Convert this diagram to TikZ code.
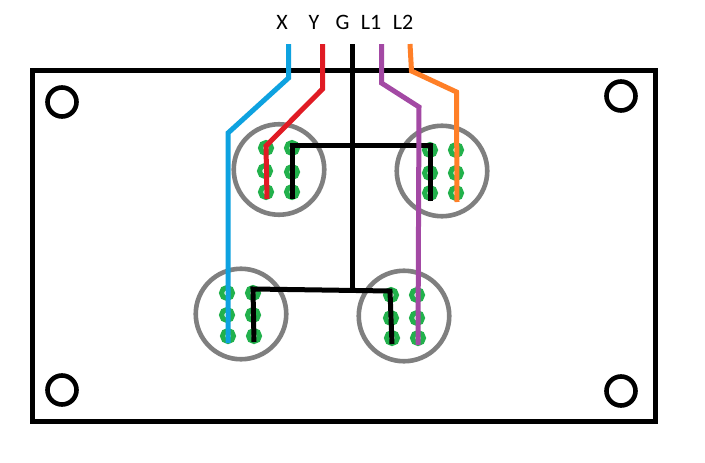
\documentclass[tikz,border=0pt]{standalone}
\usepackage{fontspec}
\setmainfont{Carlito}
\definecolor{wireblue}{HTML}{0EA2E0}
\definecolor{wirered}{HTML}{E01B24}
\definecolor{wirepurple}{HTML}{A349A4}
\definecolor{wireorange}{HTML}{FF7F27}
\definecolor{pingreen}{HTML}{22B14C}
\definecolor{ringgray}{HTML}{7F7F7F}
\tikzset{
  board/.style={draw=black,line width=5pt,minimum width=623pt,minimum height=351pt,inner sep=0pt},
  hole/.style={circle,draw=black,line width=4.6pt,fill=white,minimum size=29pt,inner sep=0pt},
  socket/.style={circle,draw=ringgray,line width=4.6pt,minimum size=90.5pt,inner sep=0pt},
  pin/.style={circle,draw=pingreen,line width=5pt,fill=white,minimum size=11pt,inner sep=0pt},
  wire/.style={line width=5pt,line join=miter},
  lab/.style={font=\fontsize{22}{24}\selectfont,inner sep=0pt,text=black},
}
\begin{document}
\begin{tikzpicture}[x=1pt,y=-1pt]
\useasboundingbox (0,0) rectangle (705,463);
\fill[white] (0,0) rectangle (705,463);
\node[board] (B) at (343.5,245.5) {};
\foreach \n/\x/\y in {h1/62/102,h2/621/96,h3/62/390,h4/621/391}
  \node[hole] (\n) at (\x,\y) {};
\foreach \n/\x/\y in {s1/279/169.5,s2/442/171,s3/241/314,s4/404/316}
  \node[socket] (\n) at (\x,\y) {};
\foreach \n/\x/\y in {
  a1/266/148,a2/265/171,a3/266/192,a4/292/148,a5/292/172,a6/292/192,
  b1/430/150,b2/430/173,b3/430/193,b4/456/150,b5/456/173,b6/456/193,
  c1/227/293,c2/227/315,c3/228/336,c4/253/293,c5/253/315,c6/254/336,
  d1/391/295,d2/391/318,d3/392/338,d4/417/295,d5/417/318,d6/418/338}
  \node[pin] (\n) at (\x,\y) {};
\node[lab] (lX) at (282,22) {X};
\node[lab] (lY) at (314,22) {Y};
\node[lab] (lG) at (342.5,22) {G};
\node[lab] (lL1) at (371,22) {L1};
\node[lab] (lL2) at (403,22) {L2};
% wire coordinates
\coordinate (xt) at (288.5,44);
\coordinate (xa) at (288.5,78);
\coordinate (xb) at (228,133);
\coordinate (yt) at (322.5,44);
\coordinate (ya) at (322.5,89);
\coordinate (yb) at (266,146);
\coordinate (gt) at (352.5,44);
\coordinate (gb) at (352.5,290);
\coordinate (lat) at (381.5,44);
\coordinate (laa) at (381.5,83);
\coordinate (lab) at (419,107);
\coordinate (lbt) at (410,44);
\coordinate (lba) at (411.5,71);
\coordinate (lbb) at (456.5,92);
\coordinate (tl) at (292,145);
\coordinate (tr) at (430,145);
\coordinate (bl) at (253,289);
\coordinate (bm) at (322,290);
\coordinate (br) at (390,291);
\coordinate (ae) at (292,199);
\coordinate (be) at (430,201);
\coordinate (ce) at (254,342);
\coordinate (de) at (392,344);
\coordinate (xe) at (228,343);
\coordinate (ye) at (267,199);
\coordinate (l1e) at (418,345);
\coordinate (l2e) at (457,202);
% black commons
\draw[wire,black] (gt) -- (gb);
\draw[wire,black] (ae) -- (tl) -- (tr) -- (be);
\draw[wire,black] (ce) -- (bl) -- (bm) -- (br) -- (de);
% coloured wires
\draw[wire,wireblue] (xt) -- (xa) -- (xb) -- (xe);
\draw[wire,wirered] (yt) -- (ya) -- (yb) -- (ye);
\draw[wire,wirepurple] (lat) -- (laa) -- (lab) -- (l1e);
\draw[wire,wireorange] (lbt) -- (lba) -- (lbb) -- (l2e);
\end{tikzpicture}
\end{document}
